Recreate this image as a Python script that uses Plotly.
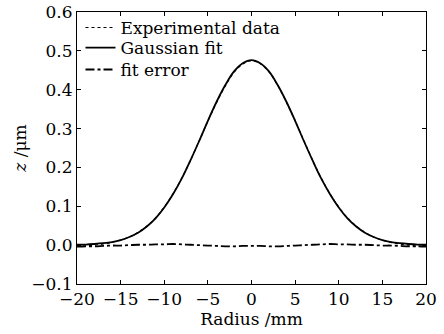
import plotly.graph_objects as go

radius = [-20, -19, -18, -17, -16, -15, -14, -13, -12, -11, -10, -9, -8, -7, -6, -5, -4, -3, -2, -1,
          0, 1, 2, 3, 4, 5, 6, 7, 8, 9, 10, 11, 12, 13, 14, 15, 16, 17, 18, 19, 20]

gaussian_fit = [0.001, 0.0015, 0.003, 0.005, 0.008, 0.013, 0.021, 0.032, 0.048, 0.069, 0.097,
                0.131, 0.171, 0.218, 0.268, 0.320, 0.369, 0.412, 0.447, 0.468,
                0.476, 0.468, 0.447, 0.412, 0.369, 0.320, 0.268, 0.218, 0.171, 0.131,
                0.097, 0.069, 0.048, 0.032, 0.021, 0.013, 0.008, 0.005, 0.003, 0.0015, 0.001]

experimental = [-0.003, -0.002, 0.000, 0.003, 0.007, 0.013, 0.021, 0.033, 0.049, 0.070, 0.098,
                0.132, 0.172, 0.218, 0.268, 0.319, 0.367, 0.410, 0.445, 0.466,
                0.475, 0.467, 0.446, 0.411, 0.368, 0.320, 0.269, 0.219, 0.172, 0.132,
                0.098, 0.070, 0.049, 0.033, 0.021, 0.013, 0.007, 0.003, 0.000, -0.002, -0.003]

fit_error = [-0.004, -0.003, -0.003, -0.002, -0.001, -0.001, 0.000, 0.001, 0.001, 0.002, 0.002,
             0.003, 0.002, 0.001, 0.000, -0.001, -0.002, -0.003, -0.003, -0.002,
             -0.002, -0.002, -0.003, -0.003, -0.002, -0.001, 0.000, 0.001, 0.002, 0.003,
             0.002, 0.002, 0.001, 0.001, 0.000, -0.001, -0.001, -0.002, -0.003, -0.003, -0.004]

x_ticks = [-20, -15, -10, -5, 0, 5, 10, 15, 20]
x_tick_labels = ["\u221220", "\u221215", "\u221210", "\u22125", "0", "5", "10", "15", "20"]
y_ticks = [-0.1, 0.0, 0.1, 0.2, 0.3, 0.4, 0.5, 0.6]
y_tick_labels = ["\u22120.1", "0.0", "0.1", "0.2", "0.3", "0.4", "0.5", "0.6"]

FONT = "DejaVu Serif, Liberation Serif, serif"
FS = 17

fig = go.Figure()
fig.add_trace(go.Scatter(x=radius, y=experimental, mode="lines", name="Experimental data",
                         legend="legend",
                         line=dict(color="black", width=1.2, dash="dot", shape="spline")))
fig.add_trace(go.Scatter(x=radius, y=gaussian_fit, mode="lines", name="Gaussian fit",
                         legend="legend2",
                         line=dict(color="black", width=1.8, shape="spline")))
fig.add_trace(go.Scatter(x=radius, y=fit_error, mode="lines", name="fit error",
                         legend="legend3",
                         line=dict(color="black", width=1.8, dash="dashdot", shape="spline")))

axis_common = dict(showline=True, linecolor="black", linewidth=1, mirror="ticks",
                   ticks="inside", ticklen=4, tickcolor="black", showgrid=False,
                   zeroline=False, automargin=False,
                   tickfont=dict(family=FONT, size=FS, color="black"))

leg_common = dict(x=0.01, xanchor="left", yanchor="middle", bgcolor="rgba(0,0,0,0)",
                  font=dict(family=FONT, size=FS, color="black"), itemwidth=30,
                  borderwidth=0)

fig.update_layout(
    width=444, height=334,
    margin=dict(l=77, r=18, t=11, b=50),
    plot_bgcolor="white", paper_bgcolor="white",
    font=dict(family=FONT, size=FS, color="black"),
    xaxis=dict(range=[-20, 20], tickvals=x_ticks, ticktext=x_tick_labels,
               title=dict(text="Radius /mm", standoff=0, font=dict(family=FONT, size=FS)),
               **axis_common),
    yaxis=dict(range=[-0.1, 0.6], tickvals=y_ticks, ticktext=y_tick_labels,
               title=dict(text="<i>z</i> /\u03bcm", standoff=0, font=dict(family=FONT, size=FS)),
               **axis_common),
    legend=dict(y=0.938, **leg_common),
    legend2=dict(y=0.864, **leg_common),
    legend3=dict(y=0.784, **leg_common),
    showlegend=True,
)

fig.write_html("out.html")
